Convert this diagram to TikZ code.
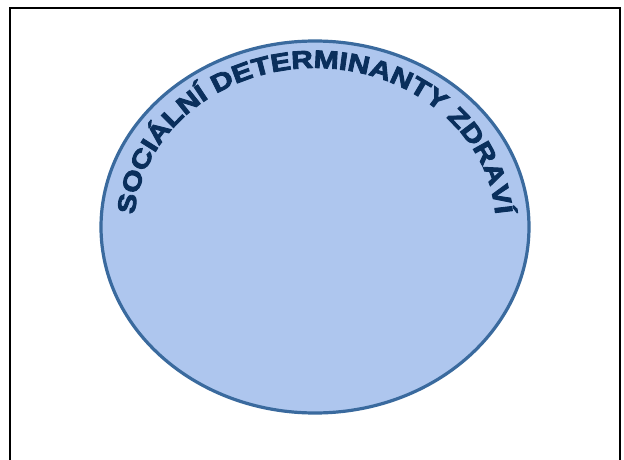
\documentclass[tikz,border=0pt]{standalone}
\usepackage{fontspec}
\setmainfont{Liberation Sans}
\newfontfamily\heavyfont{Liberation Sans}[FakeBold=3.6,FakeStretch=1.2]
\usetikzlibrary{shapes.geometric,decorations.text}
\definecolor{navy}{HTML}{0A2F5C}
\definecolor{ringblue}{HTML}{3A6A9E}
\definecolor{fillblue}{HTML}{AEC6EE}
\tikzset{
  frame/.style={draw=black, line width=2pt},
  oval/.style={ellipse, draw=ringblue, fill=fillblue, line width=3.2pt, inner sep=0pt,
    minimum width=428pt, minimum height=372pt},
}
\begin{document}
\begin{tikzpicture}[x=1pt,y=1pt]
\useasboundingbox (0,0) rectangle (624,459);
\clip (0,0) rectangle (624,459);
\fill[white] (0,0) rectangle (624,459);
\draw[frame] (10,-10) rectangle (619.5,451);
\node[oval] (circ) at (315,232) {};
\coordinate (C) at (315,232);
\path[decorate, decoration={text along path, text align=center,
   text={|\heavyfont\bfseries\fontsize{25}{25}\selectfont\color{navy}|SOCIÁLNÍ DETERMINANTY ZDRAVÍ}}]
   ([shift={(180:181 and 159)}]C) arc[start angle=180, end angle=0, x radius=181, y radius=159];
\end{tikzpicture}
\end{document}
